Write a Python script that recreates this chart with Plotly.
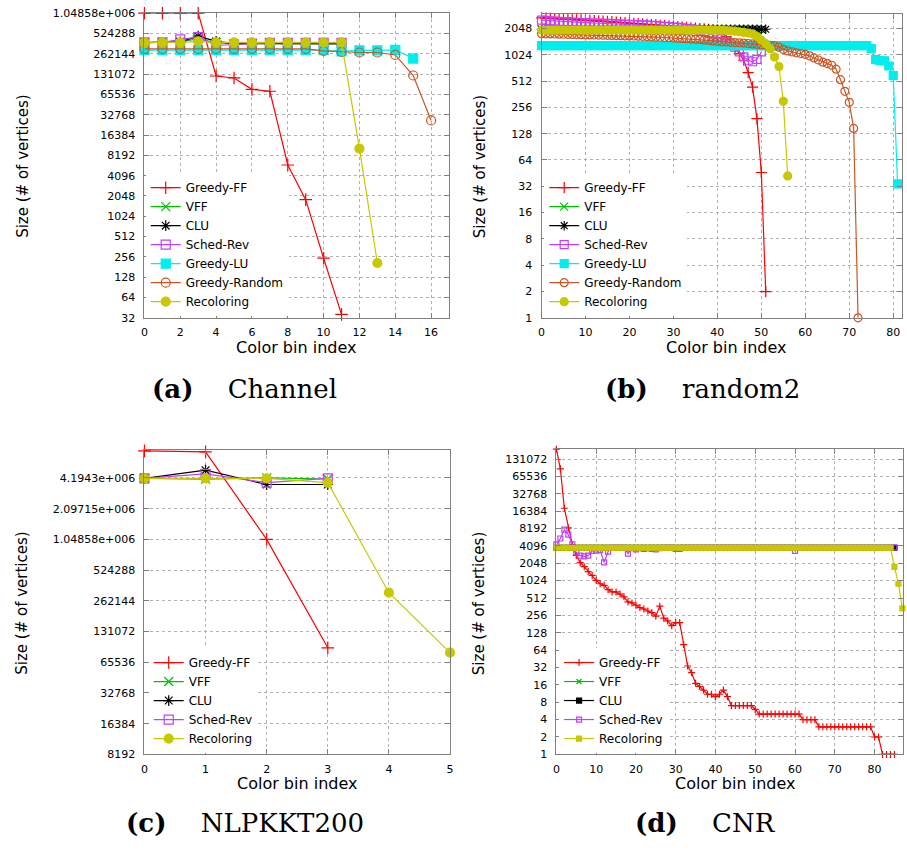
import numpy as np
import plotly.graph_objects as go

W, H = 907, 850

# ---------------- data: (a) Channel ----------------
a_greedy_ff = [1048576, 1048576, 1048576, 1048576, 123000, 115000, 78000, 73000, 5900, 1810, 245, 36]
a_vff = [385000, 385000, 392000, 440000, 380000, 372000, 375000, 378000, 378000, 378000, 376000, 372000]
a_clu = [385000, 385000, 395000, 478000, 400000, 372000, 370000, 372000, 372000, 372000, 370000, 368000]
a_sched_rev = [386000, 386000, 429000, 463000, 348000, 355000, 370000, 380000, 380000, 380000, 380000, 380000]
a_greedy_lu = [298000, 298000, 298000, 298000, 298000, 298000, 298000, 298000, 298000, 298000,
               298000, 285000, 295000, 295000, 300000, 223000]
a_greedy_random = [310000, 310000, 310000, 310000, 310000, 310000, 310000, 310000, 310000, 310000,
                   289000, 279000, 274000, 274000, 252000, 125000, 27000]
a_recoloring = [386000, 386000, 386000, 400000, 386000, 386000, 386000, 386000, 386000, 386000,
                386000, 386000, 10300, 208]

# ---------------- data: (b) random2 ----------------
b_greedy_ff = [2700, 2680, 2660, 2650, 2640, 2620, 2600, 2590, 2580, 2560,
               2550, 2530, 2510, 2500, 2480, 2460, 2440, 2420, 2400, 2380,
               2360, 2340, 2320, 2300, 2280, 2260, 2240, 2220, 2200, 2180,
               2160, 2140, 2120, 2100, 2080, 2060, 2040, 2020, 2000, 1960,
               1900, 1800, 1650, 1450, 1250, 1055, 885, 640, 436, 190,
               46, 2]
b_vff = [2000, 2000, 2000, 2000, 2000, 2000, 2000, 2000, 2000, 2000,
         2000, 2000, 2000, 2000, 2000, 2000, 2000, 2000, 2000, 2000,
         2000, 2000, 2000, 2000, 2000, 2000, 2000, 2000, 2000, 2000,
         2000, 2000, 2000, 2000, 2000, 2000, 2000, 2000, 2000, 2000,
         2000, 2000, 2000, 2000, 2000, 2000, 2000, 2000, 2000, 2000,
         2000]
b_clu = [2000, 2000, 2000, 2000, 2000, 2000, 2000, 2000, 2000, 2000,
         2000, 2000, 2000, 2000, 2000, 2000, 2000, 2000, 2000, 2000,
         2000, 2000, 2000, 2000, 2000, 2000, 2000, 2000, 2000, 2000,
         2000, 2000, 2000, 2000, 2000, 2000, 2000, 2000, 2000, 2000,
         2000, 2000, 2000, 2000, 2000, 2000, 2000, 2000, 2000, 2000,
         2000, 2000]
b_sched_rev = [2550, 2530, 2500, 2480, 2470, 2450, 2440, 2420, 2400, 2390,
               2380, 2370, 2360, 2350, 2340, 2330, 2320, 2300, 2290, 2280,
               2270, 2260, 2250, 2240, 2230, 2220, 2200, 2180, 2160, 2140,
               2120, 2100, 2080, 2050, 2020, 1990, 1950, 1880, 1800, 1720,
               1640, 1560, 1460, 1360, 1250, 1100, 965, 885, 850, 905,
               1100]
b_greedy_lu = [1300, 1300, 1300, 1300, 1300, 1300, 1300, 1300, 1300, 1300,
               1300, 1300, 1300, 1300, 1300, 1300, 1300, 1300, 1300, 1300,
               1300, 1300, 1300, 1300, 1300, 1300, 1300, 1300, 1300, 1300,
               1300, 1300, 1300, 1300, 1300, 1300, 1300, 1300, 1300, 1300,
               1300, 1300, 1300, 1300, 1300, 1300, 1300, 1300, 1300, 1300,
               1300, 1300, 1300, 1300, 1300, 1300, 1300, 1300, 1300, 1300,
               1300, 1300, 1300, 1300, 1300, 1300, 1300, 1300, 1300, 1300,
               1300, 1300, 1300, 1300, 1300, 1200, 900, 880, 870, 760,
               590, 34]
b_greedy_random = [1780, 1775, 1770, 1765, 1760, 1755, 1750, 1745, 1740, 1735,
                   1730, 1725, 1720, 1715, 1710, 1705, 1700, 1695, 1690, 1685,
                   1680, 1675, 1670, 1660, 1650, 1640, 1630, 1620, 1610, 1600,
                   1590, 1580, 1570, 1560, 1550, 1540, 1530, 1510, 1490, 1470,
                   1450, 1440, 1430, 1420, 1410, 1400, 1390, 1375, 1360, 1345,
                   1330, 1320, 1310, 1300, 1250, 1180, 1130, 1100, 1075, 1055,
                   1030, 990, 940, 890, 840, 810, 775, 700, 530, 390,
                   292, 147, 1]
b_recoloring = [1960, 1960, 1960, 1960, 1960, 1960, 1960, 1960, 1960, 1960,
                1960, 1960, 1960, 1960, 1960, 1960, 1960, 1960, 1960, 1960,
                1960, 1960, 1960, 1960, 1960, 1960, 1960, 1960, 1960, 1960,
                1960, 1960, 1960, 1960, 1960, 1960, 1960, 1960, 1960, 1955,
                1950, 1945, 1935, 1920, 1900, 1870, 1840, 1810, 1775, 1650,
                1500, 1370, 1200, 965, 750, 300, 42]

# ---------------- data: (c) NLPKKT200 ----------------
c_greedy_ff = [7740000, 7570000, 1048000, 90800]
c_vff = [4150000, 4080000, 4200000, 4100000]
c_clu = [4150000, 5000000, 3620000, 3620000]
c_sched_rev = [4150000, 4600000, 3780000, 4150000]
c_recoloring = [4150000, 4150000, 4150000, 3780000, 315000, 81300]

# ---------------- data: (d) CNR ----------------
d_greedy_ff = [194000, 88500, 18400, 8400, 4300, 2800, 2100, 1790, 1470, 1260,
               1035, 905, 850, 715, 653, 653, 600, 537, 440, 420,
               385, 350, 330, 305, 285, 248, 370, 229, 205, 170,
               192, 192, 80, 34, 26, 17, 15, 13, 11, 11,
               10, 11, 13, 10, 7, 7, 7, 7, 7, 7,
               6, 5, 5, 5, 5, 5, 5, 5, 5, 5,
               5, 5, 4, 4, 4, 4, 3, 3, 3, 3,
               3, 3, 3, 3, 3, 3, 3, 3, 3, 3,
               2, 2, 1, 1, 1, 1]
d_vff = [3800, 3800, 3800, 3800, 3800, 3800, 3800, 3800, 3800, 3800,
         3800, 3800, 3800, 3800, 3800, 3800, 3800, 3800, 3800, 3800,
         3800, 3800, 3800, 3800, 3800, 3800, 3800, 3800, 3800, 3800,
         3800, 3800, 3800, 3800, 3800, 3800, 3800, 3800, 3800, 3800,
         3800, 3800, 3800, 3800, 3800, 3800, 3800, 3800, 3800, 3800,
         3800, 3800, 3800, 3800, 3800, 3800, 3800, 3800, 3800, 3800,
         3800, 3800, 3800, 3800, 3800, 3800, 3800, 3800, 3800, 3800,
         3800, 3800, 3800, 3800, 3800, 3800, 3800, 3800, 3800, 3800,
         3800, 3800, 3800, 3800, 3800, 3800]
d_clu = [3800, 3800, 3800, 3800, 3800, 3800, 3800, 3800, 3800, 3800,
         3800, 3800, 3800, 3800, 3800, 3800, 3800, 3800, 3800, 3800,
         3800, 3800, 3800, 3800, 3800, 3800, 3800, 3800, 3800, 3800,
         3800, 3800, 3800, 3800, 3800, 3800, 3800, 3800, 3800, 3800,
         3800, 3800, 3800, 3800, 3800, 3800, 3800, 3800, 3800, 3800,
         3800, 3800, 3800, 3800, 3800, 3800, 3800, 3800, 3800, 3800,
         3800, 3800, 3800, 3800, 3800, 3800, 3800, 3800, 3800, 3800,
         3800, 3800, 3800, 3800, 3800, 3800, 3800, 3800, 3800, 3800,
         3800, 3800, 3800, 3800, 3800, 3800]
d_sched_rev = [4350, 5500, 7850, 6400, 4350, 3150, 2770, 2700, 2770, 3350,
               3400, 3450, 2120, 3250, 3800, 3800, 3800, 3800, 3000, 3750,
               3570, 3750, 3650, 3750, 3650, 3570, 3750, 3800, 3800, 3800,
               3650, 3650, 3800, 3800, 3800, 3800, 3800, 3800, 3800, 3800,
               3800, 3800, 3800, 3800, 3800, 3800, 3800, 3800, 3800, 3800,
               3800, 3800, 3800, 3800, 3800, 3800, 3800, 3800, 3800, 3800,
               3350, 3800, 3800, 3800, 3800, 3800, 3800, 3800, 3800, 3800,
               3800, 3800, 3800, 3800, 3800, 3800, 3800, 3800, 3800, 3800,
               3800, 3800, 3800, 3800, 3800, 3850]
d_recoloring = [3800, 3800, 3800, 3800, 3800, 3800, 3800, 3800, 3800, 3800,
                3800, 3800, 3800, 3800, 3800, 3800, 3800, 3800, 3800, 3800,
                3800, 3800, 3800, 3800, 3800, 3800, 3800, 3800, 3800, 3800,
                3800, 3800, 3800, 3800, 3800, 3800, 3800, 3800, 3800, 3800,
                3800, 3800, 3800, 3800, 3800, 3800, 3800, 3800, 3800, 3800,
                3800, 3800, 3800, 3800, 3800, 3800, 3800, 3800, 3800, 3800,
                3800, 3800, 3800, 3800, 3800, 3800, 3800, 3800, 3800, 3800,
                3800, 3800, 3800, 3800, 3800, 3800, 3800, 3800, 3800, 3800,
                3800, 3800, 3800, 3800, 3800, 1780, 905, 338]

# ---------------- tick labels ----------------
a_xticks = [0, 2, 4, 6, 8, 10, 12, 14, 16]
b_xticks = [0, 10, 20, 30, 40, 50, 60, 70, 80]
c_xticks = [0, 1, 2, 3, 4, 5]
d_xticks = [0, 10, 20, 30, 40, 50, 60, 70, 80]

a_yticks = [32, 64, 128, 256, 512, 1024, 2048, 4096, 8192, 16384, 32768, 65536,
            131072, 262144, 524288, 1048576]
a_ylabels = ['32', '64', '128', '256', '512', '1024', '2048', '4096', '8192', '16384',
             '32768', '65536', '131072', '262144', '524288', '1.04858e+006']
b_yticks = [1, 2, 4, 8, 16, 32, 64, 128, 256, 512, 1024, 2048]
b_ylabels = ['1', '2', '4', '8', '16', '32', '64', '128', '256', '512', '1024', '2048']
c_yticks = [8192, 16384, 32768, 65536, 131072, 262144, 524288, 1048576, 2097152, 4194304]
c_ylabels = ['8192', '16384', '32768', '65536', '131072', '262144', '524288',
             '1.04858e+006', '2.09715e+006', '4.1943e+006']
d_yticks = [1, 2, 4, 8, 16, 32, 64, 128, 256, 512, 1024, 2048, 4096, 8192, 16384,
            32768, 65536, 131072]
d_ylabels = ['1', '2', '4', '8', '16', '32', '64', '128', '256', '512', '1024', '2048',
             '4096', '8192', '16384', '32768', '65536', '131072']

captions = [('(a)', 'Channel'), ('(b)', 'random2'), ('(c)', 'NLPKKT200'), ('(d)', 'CNR')]

# ---------------- styles ----------------
STYLE = {
    'Greedy-FF': ('#ff0000', 'cross-thin'),
    'VFF': ('#00c000', 'x-thin'),
    'CLU': ('#000000', 'asterisk'),
    'Sched-Rev': ('#c040ff', 'square-open'),
    'Greedy-LU': ('#00eeee', 'square'),
    'Greedy-Random': ('#cc5522', 'circle-open'),
    'Recoloring': ('#c8c800', 'circle'),
}

panels = [
    dict(series=[('Greedy-FF', a_greedy_ff), ('VFF', a_vff), ('CLU', a_clu),
                 ('Sched-Rev', a_sched_rev), ('Greedy-LU', a_greedy_lu),
                 ('Greedy-Random', a_greedy_random), ('Recoloring', a_recoloring)],
         px=(141.7, 449.0), py=(7.3, 316.7), xr=[0, 17], yr=(32, 1048576),
         xt=a_xticks, yt=a_yticks, yl=a_ylabels, msize=9, override={},
         leg=dict(x=143, y=315, yanchor='bottom'),
         ytitle=(18.5, 163), xtitle=(295, 347), cap=(243, 389)),
    dict(series=[('Greedy-FF', b_greedy_ff), ('VFF', b_vff), ('CLU', b_clu),
                 ('Sched-Rev', b_sched_rev), ('Greedy-LU', b_greedy_lu),
                 ('Greedy-Random', b_greedy_random), ('Recoloring', b_recoloring)],
         px=(542.3, 906.0), py=(8.3, 316.7), xr=[0, 82], yr=(1, 2977),
         xt=b_xticks, yt=b_yticks, yl=b_ylabels, msize=8, override={},
         leg=dict(x=545, y=315, yanchor='bottom'),
         ytitle=(480, 163), xtitle=(728, 347), cap=(705, 389)),
    dict(series=[('Greedy-FF', c_greedy_ff), ('VFF', c_vff), ('CLU', c_clu),
                 ('Sched-Rev', c_sched_rev), ('Recoloring', c_recoloring)],
         px=(141.7, 450.0), py=(450.7, 760.0), xr=[0, 5], yr=(8192, 7.92e6),
         xt=c_xticks, yt=c_yticks, yl=c_ylabels, msize=9, override={},
         leg=dict(x=146, y=652, yanchor='top'),
         ytitle=(18.5, 606.7), xtitle=(296, 790), cap=(243, 830)),
    dict(series=[('Greedy-FF', d_greedy_ff), ('VFF', d_vff), ('CLU', d_clu),
                 ('Sched-Rev', d_sched_rev), ('Recoloring', d_recoloring)],
         px=(557.3, 907.0), py=(450.0, 760.0), xr=[0, 87.15], yr=(1, 194500),
         xt=d_xticks, yt=d_yticks, yl=d_ylabels, msize=5,
         override={'CLU': 'square', 'Recoloring': 'square'},
         leg=dict(x=560, y=652, yanchor='top'),
         ytitle=(480, 606.7), xtitle=(738, 790), cap=(708, 830)),
]

fig = go.Figure()
layout = dict(width=W, height=H, margin=dict(l=0, r=0, t=0, b=0),
              paper_bgcolor='white', plot_bgcolor='white', annotations=[])

tickfont = dict(family='DejaVu Sans', size=11, color='black')
for i, p in enumerate(panels):
    s = '' if i == 0 else str(i + 1)
    legname = 'legend' + s
    for name, vals in p['series']:
        color, sym = STYLE[name]
        sym = p['override'].get(name, sym)
        fig.add_trace(go.Scatter(
            x=list(range(len(vals))), y=vals, name=name, mode='lines+markers',
            xaxis='x' + s, yaxis='y' + s, legend=legname, cliponaxis=False,
            line=dict(color=color, width=1.2),
            marker=dict(symbol=sym, size=p['msize'], color=color,
                        line=dict(color=color, width=1.2))))
    common = dict(showline=True, linecolor='#808080', linewidth=1, mirror='ticks',
                  ticks='inside', ticklen=5, tickcolor='#808080', showgrid=True,
                  gridcolor='#b0b0b0', griddash='dot', gridwidth=1, zeroline=False,
                  tickfont=tickfont, tickmode='array', fixedrange=True)
    layout['xaxis' + s] = dict(common, domain=[p['px'][0] / W, p['px'][1] / W],
                               range=p['xr'], anchor='y' + s, tickvals=p['xt'],
                               ticktext=[str(v) for v in p['xt']], ticklabelstandoff=4)
    layout['yaxis' + s] = dict(common, domain=[1 - p['py'][1] / H, 1 - p['py'][0] / H],
                               type='log', range=[np.log10(p['yr'][0]), np.log10(p['yr'][1])],
                               anchor='x' + s, tickvals=p['yt'], ticktext=p['yl'],
                               ticklabelstandoff=6)
    layout[legname] = dict(x=p['leg']['x'] / W, y=1 - p['leg']['y'] / H, xanchor='left',
                           yanchor=p['leg']['yanchor'], bgcolor='white', borderwidth=0,
                           font=dict(family='DejaVu Sans', size=12, color='black'),
                           itemwidth=30, tracegroupgap=0)
    layout['annotations'].append(dict(
        x=p['ytitle'][0] / W, y=1 - p['ytitle'][1] / H, xref='paper', yref='paper',
        text='Size (# of vertices)', textangle=-90, showarrow=False,
        xanchor='center', yanchor='middle',
        font=dict(family='DejaVu Sans', size=15, color='black')))
    layout['annotations'].append(dict(
        x=p['xtitle'][0] / W, y=1 - p['xtitle'][1] / H, xref='paper', yref='paper',
        text='Color bin index', showarrow=False, xanchor='center', yanchor='middle',
        font=dict(family='DejaVu Sans', size=16, color='black')))
    lab, title = captions[i]
    layout['annotations'].append(dict(
        x=p['cap'][0] / W, y=1 - p['cap'][1] / H, xref='paper', yref='paper',
        text='<b>' + lab + '</b>\u2003 ' + title, showarrow=False,
        xanchor='center', yanchor='middle',
        font=dict(family='DejaVu Serif', size=26, color='black')))

fig.update_layout(**layout)
fig.write_html('out.html')
